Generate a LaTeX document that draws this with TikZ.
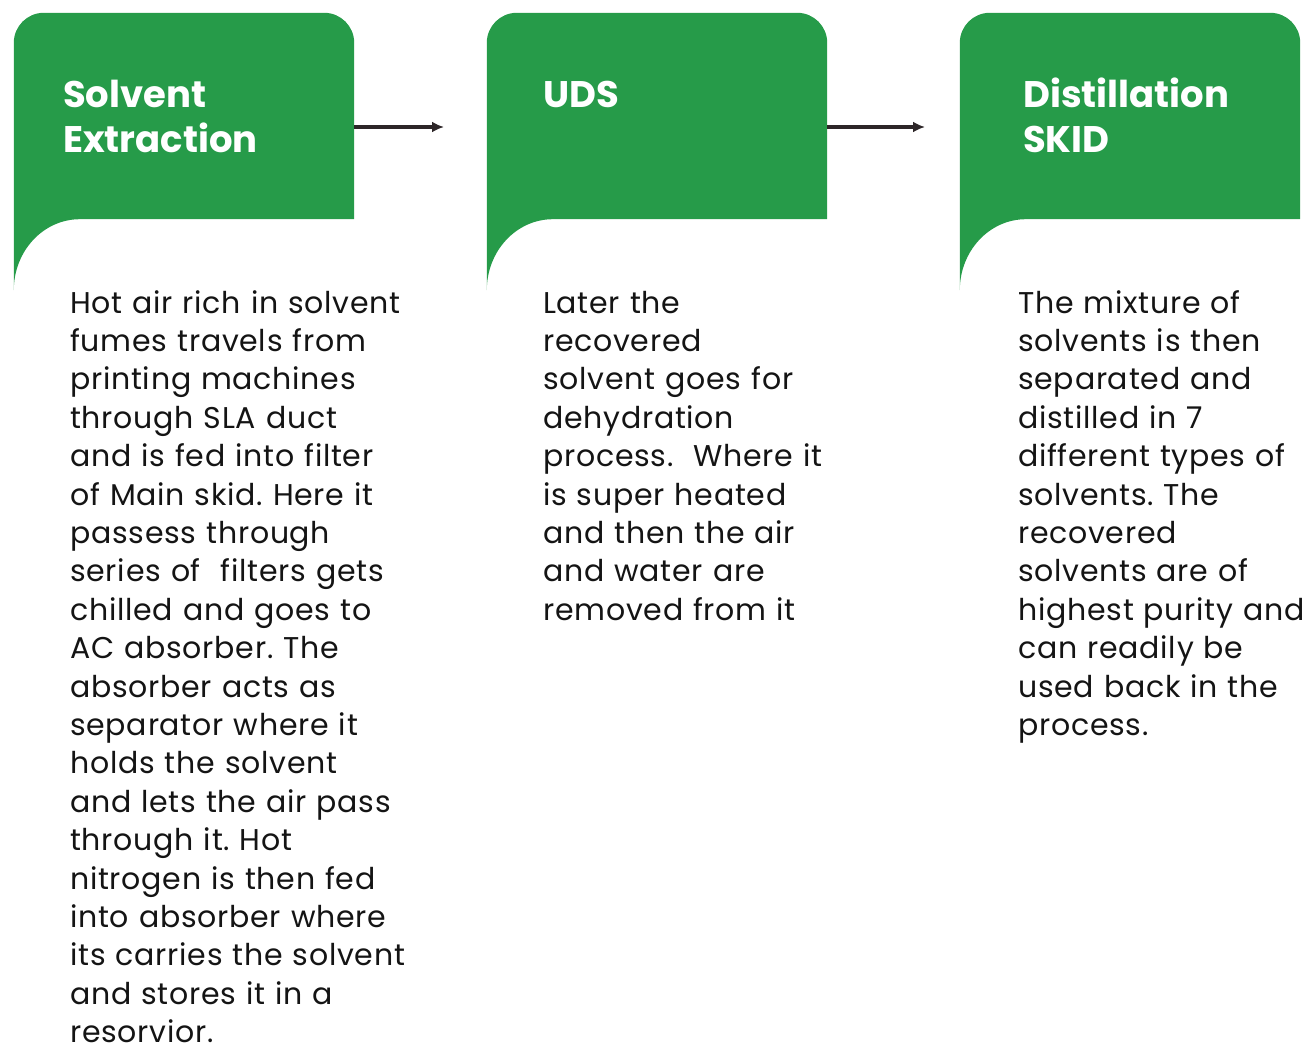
\documentclass[tikz,border=0pt]{standalone}
\usepackage{fontspec}
\setmainfont{Poppins}
\newfontfamily\bodyfont[LetterSpace=2.5]{Poppins}
\usepackage{xcolor}
\usepackage{tikz}
\usetikzlibrary{arrows.meta, positioning, calc}
\frenchspacing

\definecolor{tabgreen}{RGB}{38,155,73}
\definecolor{arrowgray}{RGB}{45,38,40}
\definecolor{bodyblack}{RGB}{20,20,20}

\begin{document}
\begin{tikzpicture}[
    x=1pt, y=-1pt,
    hdr/.style={rectangle, inner sep=0, minimum width=340pt, minimum height=206pt},
    tab/.style={fill=tabgreen},
    title/.style={anchor=base west, inner sep=0, text=white, align=left, text width=300pt,
      font=\bfseries\fontsize{37}{45}\selectfont},
    body/.style={anchor=base west, inner sep=0, text=bodyblack, align=left, text width=400pt,
      font=\bodyfont\fontsize{30}{38.4}\selectfont},
    arrow/.style={-{Latex[length=12pt,width=11pt]}, line width=3.5pt, draw=arrowgray}
  ]

    \useasboundingbox (0,0) rectangle (1308,1044);

    % header frames of the three steps
    \node[hdr] (solvent) at (184,116) {};
    \node[hdr] (uds) at (657,116) {};
    \node[hdr] (skid) at (1130,116) {};

    % green tabs with the curved tail
    \foreach \n in {solvent, uds, skid} {
      \fill[tab] ([yshift=-71pt]\n.south west) [rounded corners=30pt]
        -- (\n.north west) -- (\n.north east) [sharp corners]
        -- (\n.south east) -- ([xshift=66pt]\n.south west)
        arc[start angle=90, end angle=180, x radius=66pt, y radius=71pt] -- cycle;
    }

    % titles
    \node[title] (solvent-title) at (63,107) {Solvent\\Extraction};
    \node[title] (uds-title) at (543,107) {UDS};
    \node[title] (skid-title) at (1023,107) {Distillation\\SKID};

    % descriptions
    \node[body] (solvent-text) at (70,313) {Hot air rich in solvent\\fumes travels from\\printing machines\\through SLA duct\\and is fed into filter\\of Main skid. Here it\\passess through\\series of\ \ filters gets\\chilled and goes to\\AC absorber. The\\absorber acts as\\separator where it\\holds the solvent\\and lets the air pass\\through it. Hot\\nitrogen is then fed\\into absorber where\\its carries the solvent\\and stores it in a\\resorvior.};
    \node[body] (uds-text) at (543,313) {Later the\\recovered\\solvent goes for\\dehydration\\process.\ \ Where it\\is super heated\\and then the air\\and water are\\removed from it};
    \node[body] (skid-text) at (1018,313) {The mixture of\\solvents is then\\separated and\\distilled in 7\\different types of\\solvents. The\\recovered\\solvents are of\\highest purity and\\can readily be\\used back in the\\process.};

    % flow between the steps
    \coordinate (uds-in) at (444,127);
    \coordinate (skid-in) at (925,127);
    \draw[arrow] ([yshift=-11pt]solvent.east) -- (uds-in);
    \draw[arrow] ([yshift=-11pt]uds.east) -- (skid-in);

\end{tikzpicture}
\end{document}
